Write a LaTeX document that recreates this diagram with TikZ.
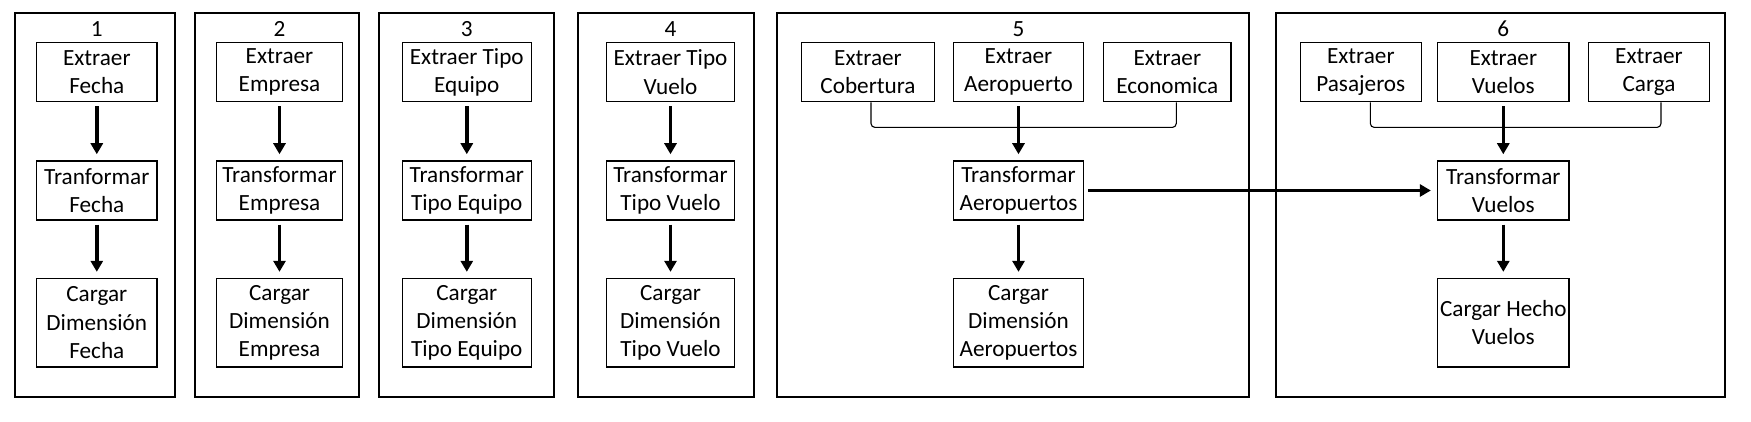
\documentclass[tikz,border=0pt]{standalone}
\usepackage{fontspec}
\setmainfont{Carlito}
\usetikzlibrary{arrows.meta,calc}
\begin{document}
\begin{tikzpicture}[x=0.5pt,y=-0.5pt,
  panel/.style={draw, line width=0.85pt},
  box/.style={draw, line width=0.75pt, align=center, inner sep=0pt, minimum height=29.5pt, font=\fontsize{11.6}{14.2}\selectfont},
  tallbox/.style={box, minimum height=44.2pt},
  flow/.style={line width=1.7pt, -{Triangle[width=6pt,length=5.5pt]}, shorten <=2pt, shorten >=3pt},
  joint/.style={line width=0.55pt, rounded corners=2pt},
  lbl/.style={font=\fontsize{11.6}{14.2}\selectfont, inner sep=0pt}]
\useasboundingbox (0,0) rectangle (1751,422);
% panels
\draw[panel] (14.7,13) rectangle (175.3,397);
\draw[panel] (194.7,13) rectangle (359.3,397);
\draw[panel] (378.7,13) rectangle (554.3,397);
\draw[panel] (577.7,13) rectangle (754.3,397);
\draw[panel] (777.3,13) rectangle (1249.3,397);
\draw[panel] (1275.7,13) rectangle (1725,397);
% labels
\node[lbl] (l1) at (96.8,29) {1};
\node[lbl] (l2) at (279.5,29) {2};
\node[lbl] (l3) at (466.8,29) {3};
\node[lbl] (l4) at (670.5,29) {4};
\node[lbl] (l5) at (1018.5,29) {5};
\node[lbl] (l6) at (1503.3,29) {6};
% panel 1
\node[box, minimum width=60.2pt] (e1) at (96.8,72.2) {Extraer\\Fecha};
\node[box, minimum width=60.2pt] (t1) at (96.8,190.5) {Tranformar\\Fecha};
\node[tallbox, minimum width=60.2pt] (c1) at (96.8,322.8) {Cargar\\Dimensión\\Fecha};
% panel 2
\node[box, minimum width=62.8pt] (e2) at (279.5,72.2) {Extraer\\Empresa};
\node[box, minimum width=62.8pt] (t2) at (279.5,190.5) {Transformar\\Empresa};
\node[tallbox, minimum width=62.8pt] (c2) at (279.5,322.8) {Cargar\\Dimensión\\Empresa};
% panel 3
\node[box, minimum width=64.5pt] (e3) at (466.8,72.2) {Extraer Tipo\\Equipo};
\node[box, minimum width=64.5pt] (t3) at (466.8,190.5) {Transformar\\Tipo Equipo};
\node[tallbox, minimum width=64.5pt] (c3) at (466.8,322.8) {Cargar\\Dimensión\\Tipo Equipo};
% panel 4
\node[box, minimum width=63.8pt] (e4) at (670.5,72.2) {Extraer Tipo\\Vuelo};
\node[box, minimum width=63.8pt] (t4) at (670.5,190.5) {Transformar\\Tipo Vuelo};
\node[tallbox, minimum width=63.8pt] (c4) at (670.5,322.8) {Cargar\\Dimensión\\Tipo Vuelo};
% panel 5
\node[box, minimum width=66.3pt] (e5a) at (868,72.2) {Extraer\\Cobertura};
\node[box, minimum width=64.8pt] (e5b) at (1018.5,72.2) {Extraer\\Aeropuerto};
\node[box, minimum width=63.7pt] (e5c) at (1167.3,72.2) {Extraer\\Economica};
\node[box, minimum width=64.8pt] (t5) at (1018.5,190.5) {Transformar\\Aeropuertos};
\node[tallbox, minimum width=64.8pt] (c5) at (1018.5,322.8) {Cargar\\Dimensión\\Aeropuertos};
% panel 6
\node[box, minimum width=60.5pt] (e6a) at (1360.8,72.2) {Extraer\\Pasajeros};
\node[box, minimum width=65.7pt] (e6b) at (1503.3,72.2) {Extraer\\Vuelos};
\node[box, minimum width=60.3pt] (e6c) at (1649,72.2) {Extraer\\Carga};
\node[box, minimum width=65.7pt] (t6) at (1503.3,190.5) {Transformar\\Vuelos};
\node[tallbox, minimum width=65.7pt] (c6) at (1503.3,322.8) {Cargar Hecho\\Vuelos};
% joints
\draw[joint] ([xshift=1.5pt]e5a.south) -- ++(0,25) -| ([xshift=4.5pt]e5c.south);
\draw[joint] ([xshift=4.75pt]e6a.south) -- ++(0,25) -| ([xshift=6pt]e6c.south);
% flows
\foreach \i in {1,2,3,4} {
  \draw[flow] (e\i) -- (t\i);
  \draw[flow] (t\i) -- (c\i);
}
\draw[flow] (e5b) -- (t5);
\draw[flow] (t5) -- (c5);
\draw[flow] (e6b) -- (t6);
\draw[flow] (t6) -- (c6);
\draw[flow] (t5) -- (t6);
\end{tikzpicture}
\end{document}
